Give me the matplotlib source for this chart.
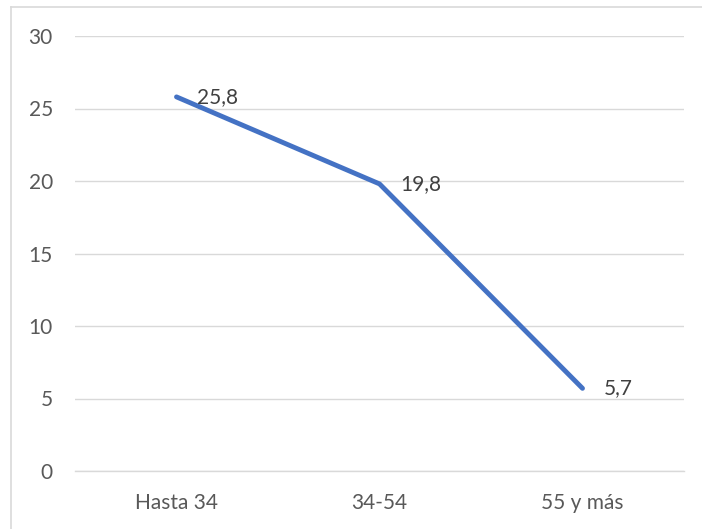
import matplotlib
matplotlib.use("Agg")
import matplotlib.pyplot as plt
from matplotlib.lines import Line2D

categories = ["Hasta 34", "34-54", "55 y más"]
values = [25.8, 19.8, 5.7]
value_labels = ["25,8", "19,8", "5,7"]
yticks = [0, 5, 10, 15, 20, 25, 30]

plt.rcParams['font.family'] = ['Lato', 'DejaVu Sans']

fig = plt.figure(figsize=(7.02, 5.29), dpi=100)
ax = fig.add_axes([75/702, 1-471/529, (684-75)/702, (471-36)/529])

x = list(range(len(categories)))
ax.plot(x, values, color="#4472C4", linewidth=3.5, solid_capstyle="round", solid_joinstyle="round", zorder=3)
for xi, v, lab in zip(x, values, value_labels):
    ax.annotate(lab, (xi, v), xytext=(15, 0), textcoords="offset points",
                ha="left", va="center", fontsize=15, color="#404040", zorder=4)

ax.set_xlim(-0.5, len(categories)-0.5)
ax.set_ylim(0, 30)
ax.set_yticks(yticks)
ax.set_yticklabels([str(t) for t in yticks])
ax.set_xticks(x)
ax.set_xticklabels(categories)
ax.tick_params(axis="both", length=0, labelsize=15, labelcolor="#595959")
ax.tick_params(axis="y", pad=16)
ax.tick_params(axis="x", pad=16)
ax.grid(axis="y", color="#D9D9D9", linewidth=1)
ax.set_axisbelow(True)
for s in ["top", "right", "left"]:
    ax.spines[s].set_visible(False)
ax.spines["bottom"].set_color("#D9D9D9")
ax.spines["bottom"].set_linewidth(1)

# chart-area border (left and top edges visible)
fig.add_artist(Line2D([10.5/702, 10.5/702], [0, 1-6.5/529], transform=fig.transFigure,
                      color="#D9D9D9", linewidth=1.2))
fig.add_artist(Line2D([10.5/702, 1], [1-6.5/529, 1-6.5/529], transform=fig.transFigure,
                      color="#D9D9D9", linewidth=1.2))
fig.savefig("out.png", dpi=100)
